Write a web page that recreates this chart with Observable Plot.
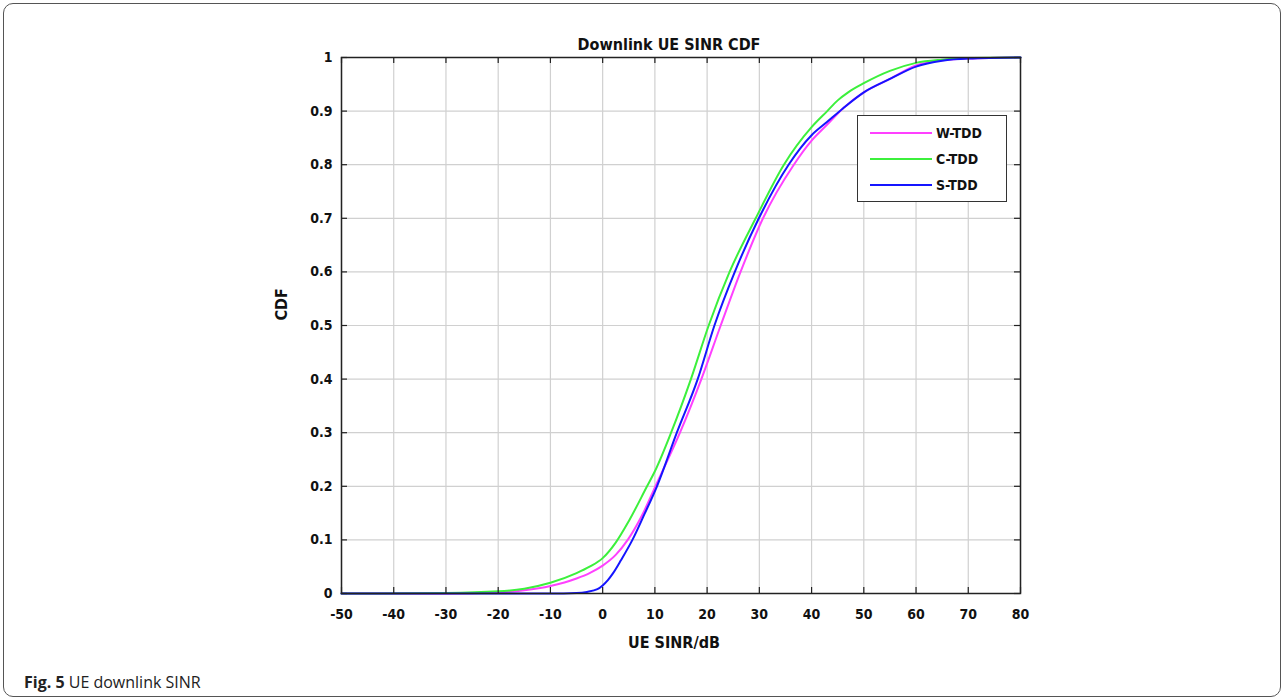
<!DOCTYPE html>
<html>
<head>
<meta charset="utf-8">
<script src="https://cdn.jsdelivr.net/npm/d3@7"></script>
<script src="https://cdn.jsdelivr.net/npm/@observablehq/plot@0.6"></script>
<style>
  body { margin:0; width:1284px; height:700px; position:relative; background:#fff; overflow:hidden; }
  #border { position:absolute; left:3px; top:3px; width:1278px; height:694px; border:1.5px solid #555; border-radius:10px; box-sizing:border-box; }
  #chart { position:absolute; left:0; top:0; }
  #legend { position:absolute; left:857px; top:115px; width:150px; height:87px; border:1.5px solid #333; background:#fff; box-sizing:border-box; }
  .lg-row { position:absolute; left:11px; height:20px; display:flex; align-items:center; font-family:"Liberation Sans Narrow","DejaVu Sans Condensed","Liberation Sans",Arial,sans-serif; font-weight:bold; font-size:14px; color:#111; }
  #caption { position:absolute; left:24px; top:671px; font-family:"Open Sans",sans-serif; font-size:16px; color:#222; }
</style>
</head>
<body>
<div id="border"></div>
<div id="chart"></div>
<div id="legend"></div>
<div id="caption"><b>Fig. 5</b> UE downlink SINR</div>
<script>
const titleText = "Downlink UE SINR CDF";
const xLabel = "UE SINR/dB";
const yLabel = "CDF";

const xTicks = [-50, -40, -30, -20, -10, 0, 10, 20, 30, 40, 50, 60, 70, 80];
const xTickLabels = ["-50", "-40", "-30", "-20", "-10", "0", "10", "20", "30", "40", "50", "60", "70", "80"];
const yTicks = [0, 0.1, 0.2, 0.3, 0.4, 0.5, 0.6, 0.7, 0.8, 0.9, 1];
const yTickLabels = ["0", "0.1", "0.2", "0.3", "0.4", "0.5", "0.6", "0.7", "0.8", "0.9", "1"];

const seriesNames = ["W-TDD", "C-TDD", "S-TDD"];
const seriesColors = ["#ff40ff", "#3cf03c", "#1515ff"];

// W-TDD (magenta)
const wTddX = [-50, -30, -20, -15, -10, -5, -2.5, 0, 2.5, 4.8, 7.5, 10.1, 14.8, 18.9, 22.6, 26.4, 30.7, 36.6, 40, 43, 46, 50, 55, 60, 65, 70, 80];
const wTddP = [0, 0, 0.002, 0.006, 0.014, 0.028, 0.038, 0.052, 0.072, 0.1, 0.145, 0.2, 0.3, 0.4, 0.5, 0.6, 0.7, 0.8, 0.845, 0.875, 0.905, 0.935, 0.96, 0.985, 0.995, 0.998, 1];
// C-TDD (green)
const cTddX = [-50, -30, -20, -15, -10, -5, -2.5, 0, 2.5, 5, 8.5, 10, 13.1, 16.9, 20.3, 24.3, 29.3, 34.7, 40, 43, 45, 47, 50, 55, 60, 65, 70, 80];
const cTddP = [0, 0.001, 0.004, 0.009, 0.02, 0.038, 0.05, 0.066, 0.095, 0.135, 0.2, 0.228, 0.3, 0.4, 0.5, 0.6, 0.7, 0.8, 0.87, 0.9, 0.92, 0.935, 0.952, 0.975, 0.99, 0.996, 0.999, 1];
// S-TDD (blue)
const sTddX = [-50, -10, -5, -3, -1, 0, 1, 2, 3.5, 5.7, 8, 10.4, 14.2, 18.2, 21.4, 25.3, 29.9, 35.6, 40, 43, 46, 50, 55, 60, 65, 70, 80];
const sTddP = [0, 0, 0.001, 0.003, 0.008, 0.015, 0.025, 0.038, 0.062, 0.1, 0.148, 0.2, 0.3, 0.4, 0.5, 0.6, 0.7, 0.8, 0.855, 0.88, 0.905, 0.935, 0.96, 0.983, 0.994, 0.998, 1];

const seriesX = [wTddX, cTddX, sTddX];
const seriesP = [wTddP, cTddP, sTddP];

const rows = [];
seriesNames.forEach((name, s) => {
  seriesX[s].forEach((x, i) => rows.push({series: name, x: x, p: seriesP[s][i]}));
});

const W = 1284, H = 650, mL = 341, mR = 264, mT = 57, mB = 57;
const plotW = W - mL - mR, plotH = H - mT - mB;
const tickLen = 6;
const font = '"Liberation Sans Narrow","DejaVu Sans Condensed","Liberation Sans",Arial,sans-serif';

const chart = Plot.plot({
  width: W, height: H,
  marginLeft: mL, marginRight: mR, marginTop: mT, marginBottom: mB,
  x: {domain: [-50, 80]},
  y: {domain: [0, 1]},
  color: {domain: seriesNames, range: seriesColors},
  style: {fontFamily: font, fontSize: "14px", color: "#111", background: "transparent"},
  marks: [
    Plot.gridX(xTicks, {stroke: "#d0d0d0", strokeOpacity: 1, strokeWidth: 1.2}),
    Plot.gridY(yTicks, {stroke: "#d0d0d0", strokeOpacity: 1, strokeWidth: 1.2}),
    Plot.line(rows, {x: "x", y: "p", z: "series", stroke: "series", strokeWidth: 2, curve: "monotone-x"}),
    Plot.ruleX(xTicks, {x: d => d, insetTop: plotH - tickLen, stroke: "#222", strokeWidth: 1.2}),
    Plot.ruleX(xTicks, {x: d => d, insetBottom: plotH - tickLen, stroke: "#222", strokeWidth: 1.2}),
    Plot.ruleY(yTicks, {y: d => d, insetRight: plotW - tickLen, stroke: "#222", strokeWidth: 1.2}),
    Plot.ruleY(yTicks, {y: d => d, insetLeft: plotW - tickLen, stroke: "#222", strokeWidth: 1.2}),
    Plot.frame({stroke: "#222", strokeWidth: 1.5}),
    Plot.axisX(xTicks, {tickSize: 0, tickPadding: 16, label: null, fontWeight: "bold", fontSize: 14,
      tickFormat: d => xTickLabels[xTicks.indexOf(d)]}),
    Plot.axisY(yTicks, {tickSize: 0, tickPadding: 9, label: null, fontWeight: "bold", fontSize: 14,
      tickFormat: d => yTickLabels[yTicks.indexOf(d)]}),
    Plot.text([titleText], {text: d => d, frameAnchor: "top", dx: -12, dy: -19, fontSize: 16, fontWeight: "bold"}),
    Plot.text([xLabel], {text: d => d, frameAnchor: "bottom", dx: -7, dy: 54, fontSize: 16, fontWeight: "bold"}),
    Plot.text([yLabel], {text: d => d, frameAnchor: "left", dx: -60, dy: -5, rotate: -90, fontSize: 16, fontWeight: "bold"})
  ]
});
document.getElementById("chart").appendChild(chart);

// Legend
const legend = d3.select("#legend");
seriesNames.forEach((name, i) => {
  const row = legend.append("div").attr("class", "lg-row").style("top", (7 + i * 26) + "px");
  const svg = row.append("svg").attr("width", 64).attr("height", 20);
  svg.append("line").attr("x1", 1).attr("x2", 63).attr("y1", 10).attr("y2", 10)
    .attr("stroke", seriesColors[i]).attr("stroke-width", 2.2);
  row.append("span").style("margin-left", "3px").text(name);
});
</script>
</body>
</html>
